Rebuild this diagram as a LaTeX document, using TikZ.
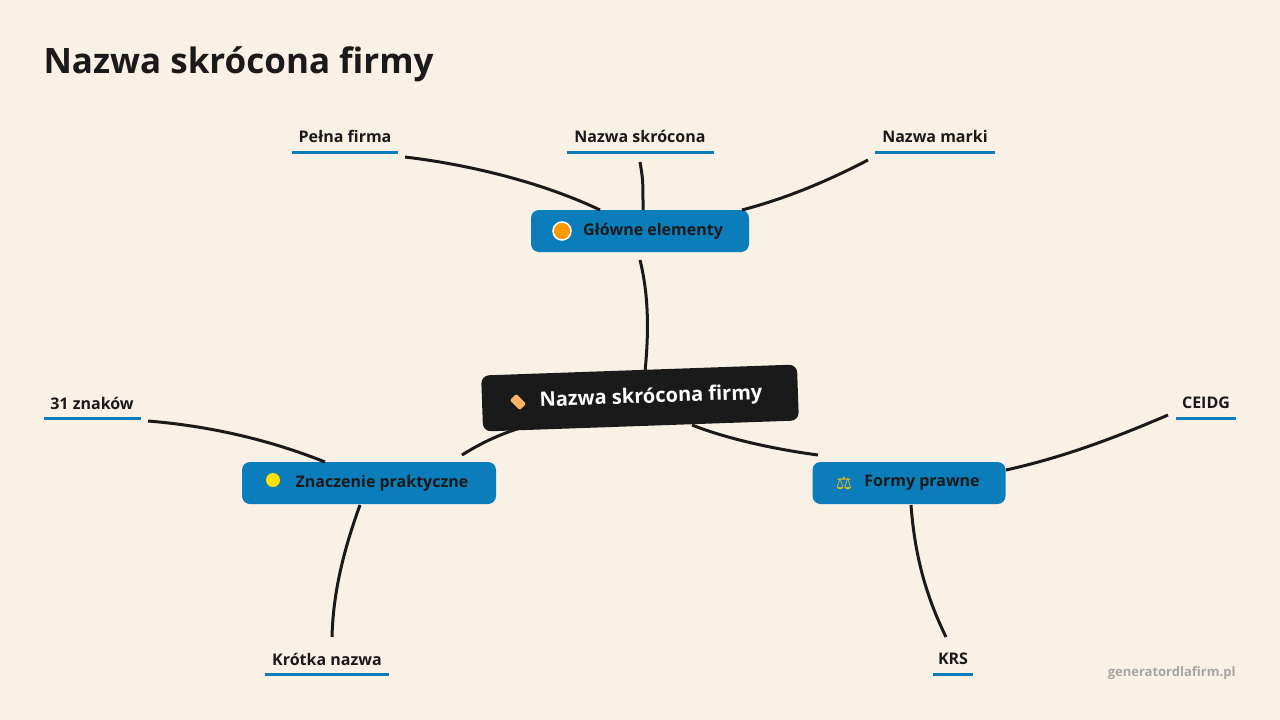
\documentclass[tikz,border=0pt]{standalone}
\usepackage{fontspec}
\setmainfont{Open Sans}
\newfontfamily\dejavu{DejaVu Sans}
\definecolor{bg}{HTML}{F9F0E6}
\definecolor{blu}{HTML}{0B7DBB}
\definecolor{ink}{HTML}{1A1A1A}
\begin{document}
\begin{tikzpicture}[x=1pt,y=-1pt,
 blue/.style={fill=blu,rounded corners=8pt,minimum height=42pt,text=ink,font=\bfseries\fontsize{16}{18}\selectfont},
 leaf/.style={font=\bfseries\fontsize{16}{18}\selectfont,text=ink,inner sep=0pt},
 ul/.style={draw=blu,line width=3pt},
 con/.style={draw=ink,line width=3pt}]
\useasboundingbox[fill=bg] (0,0) rectangle (1280,720);
\node[anchor=base west,font=\bfseries\fontsize{35}{40}\selectfont,text=ink] (title) at (40,73) {Nazwa skrócona firmy};
% central
\node[fill=ink,rounded corners=8pt,minimum width=316pt,minimum height=56pt,rotate=2,text=white,font=\bfseries\fontsize{20}{24}\selectfont] (c) at (640,398) {\hspace{22pt}Nazwa skrócona firmy};
\node[fill=orange!60,rotate=-45,minimum width=14pt,minimum height=9pt,inner sep=0pt,rounded corners=1.5pt] (ci) at (518,402) {};
% branches
\node[blue,minimum width=218pt] (g) at (640,231) {\hspace{26pt}Główne elementy};
\node[blue,minimum width=254pt] (z) at (369,483) {\hspace{26pt}Znaczenie praktyczne};
\node[blue,minimum width=193pt] (f) at (909,483) {\hspace{26pt}Formy prawne};
\node[circle,draw=white,fill=orange!80!yellow,line width=1.5pt,minimum size=18pt,inner sep=0pt] (gi) at (562,231) {};
\node[circle,fill=yellow!85!orange,minimum size=14pt,inner sep=0pt] (zi) at (273,480) {};
\node[font=\dejavu\fontsize{18}{18}\selectfont,text=yellow!50!orange] (fi) at (844,483) {⚖};
% leaves
\node[leaf] (l1) at (345,136) {Pełna firma};
\node[leaf] (l2) at (640,136) {Nazwa skrócona};
\node[leaf] (l3) at (935,136) {Nazwa marki};
\node[leaf] (l4) at (92,403) {31 znaków};
\node[leaf] (l5) at (1206,403) {CEIDG};
\node[leaf] (l6) at (327,659) {Krótka nazwa};
\node[leaf] (l7) at (953,659) {KRS};
\draw[ul] (292,152) -- (398,152);
\draw[ul] (567,152) -- (714,152);
\draw[ul] (875,152) -- (995,152);
\draw[ul] (44,418) -- (141,418);
\draw[ul] (1176,418) -- (1236,418);
\draw[ul] (265,674) -- (389,674);
\draw[ul] (933,674) -- (973,674);
% connectors
\coordinate (a1) at (405,157); \coordinate (b1) at (600,210);
\draw[con] (a1) .. controls (480,166) and (550,186) .. (b1);
\coordinate (a2) at (640,162); \coordinate (b2) at (643,210);
\draw[con] (a2) .. controls (643,180) .. (b2);
\coordinate (a3) at (868,160); \coordinate (b3) at (742,210);
\draw[con] (a3) .. controls (820,185) and (780,200) .. (b3);
\coordinate (a4) at (640,260); \coordinate (b4) at (645,372);
\draw[con] (a4) .. controls (650,300) and (648,340) .. (b4);
\coordinate (a5) at (520,428); \coordinate (b5) at (462,455);
\draw[con] (a5) .. controls (495,436) and (478,445) .. (b5);
\coordinate (a6) at (692,425); \coordinate (b6) at (818,455);
\draw[con] (a6) .. controls (730,440) and (780,450) .. (b6);
\coordinate (a7) at (148,421); \coordinate (b7) at (325,462);
\draw[con] (a7) .. controls (210,426) and (270,440) .. (b7);
\coordinate (a8) at (360,505); \coordinate (b8) at (332,637);
\draw[con] (a8) .. controls (340,560) and (333,600) .. (b8);
\coordinate (a9) at (1168,415); \coordinate (b9) at (1006,470);
\draw[con] (a9) .. controls (1110,440) and (1060,458) .. (b9);
\coordinate (a10) at (911,505); \coordinate (b10) at (946,637);
\draw[con] (a10) .. controls (915,560) and (928,600) .. (b10);
\node[anchor=base east,font=\bfseries\fontsize{13}{15}\selectfont,text=gray!70] (ft) at (1239,676) {generatordlafirm.pl};
\end{tikzpicture}
\end{document}
